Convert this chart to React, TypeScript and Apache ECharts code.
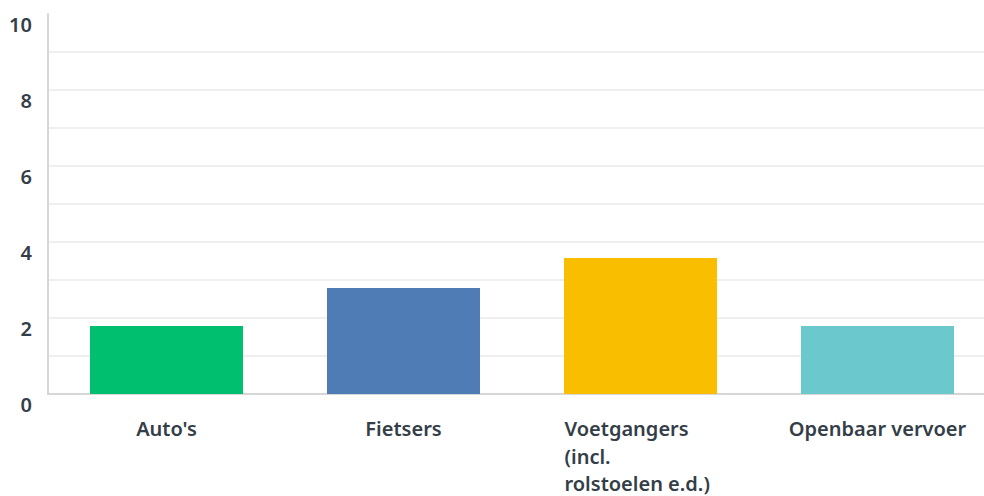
import React, { useEffect, useRef } from "react";
import * as echarts from "echarts";

const categories = ["Auto's", "Fietsers", "Voetgangers\n(incl.\nrolstoelen e.d.)", "Openbaar vervoer"];
const values = [1.79, 2.79, 3.58, 1.79];
const barColors = ["#00bf6f", "#507cb6", "#f9be00", "#6bc8cd"];
const yTicks = [0, 2, 4, 6, 8, 10];

export default function App() {
  const ref = useRef<HTMLDivElement>(null);
  useEffect(() => {
    if (!ref.current) return;
    const chart = echarts.init(ref.current, null, { renderer: "svg" });
    const font = "'Noto Sans', Roboto, sans-serif";
    const splitColors: string[] = [];
    for (let i = 0; i <= 10; i++) splitColors.push(i === 0 || i === 10 ? "transparent" : "#efefef");
    chart.setOption({
      animation: false,
      grid: { left: 48, width: 948, top: 14, height: 380, outerBoundsMode: "none", containLabel: false },
      xAxis: {
        type: "category",
        data: categories,
        axisLine: { show: true, lineStyle: { color: "#d6d6d6", width: 2 } },
        axisTick: { show: false },
        axisLabel: {
          interval: 0,
          margin: 21,
          color: "#333e48",
          fontFamily: font,
          fontSize: 20,
          fontWeight: 600,
          lineHeight: 27.5,
          formatter: (v: string) => {
            if (v.indexOf("\n") >= 0) {
              return v.split("\n").map((l) => "{l|" + l + "}").join("\n");
            }
            return v;
          },
          rich: {
            l: {
              width: 152,
              align: "left",
              color: "#333e48",
              fontFamily: font,
              fontSize: 20,
              fontWeight: 600,
              lineHeight: 27.5,
            },
          },
        },
      },
      yAxis: {
        type: "value",
        min: 0,
        max: 10,
        interval: 1,
        axisLine: { show: true, lineStyle: { color: "#d6d6d6", width: 2 } },
        axisTick: { show: false },
        splitLine: { show: true, lineStyle: { color: splitColors, width: 2 } },
        axisLabel: {
          margin: 16,
          color: "#333e48",
          fontFamily: font,
          fontSize: 20,
          fontWeight: 600,
          verticalAlign: "top",
          formatter: (v: number) => (yTicks.indexOf(v) >= 0 ? String(v) : ""),
        },
      },
      series: [
        {
          type: "bar",
          barWidth: 153,
          data: values.map((v, i) => ({ value: v, itemStyle: { color: barColors[i] } })),
        },
      ],
    });
    return () => chart.dispose();
  }, []);
  return (
    <div
      ref={ref}
      style={{ position: "absolute", left: 0, top: 0, width: 984, height: 496 }}
    />
  );
}
